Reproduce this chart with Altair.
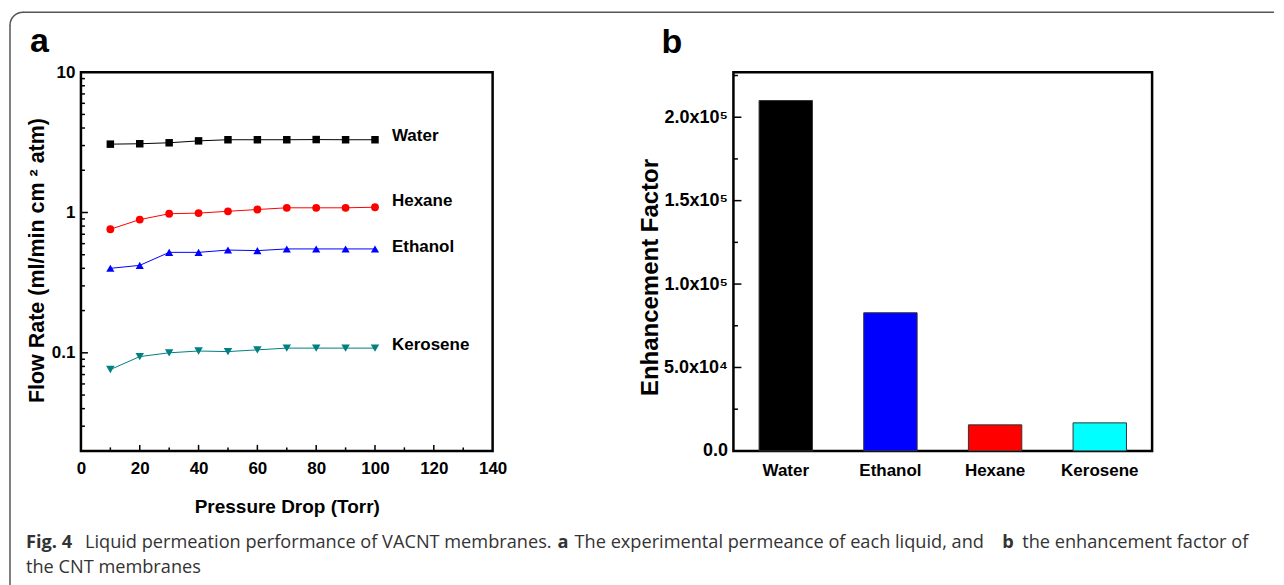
import math
import altair as alt
import pandas as pd

# ---------------- data ----------------
pressure = [10, 20, 30, 40, 50, 60, 70, 80, 90, 100]
water = [3.07, 3.09, 3.14, 3.24, 3.30, 3.30, 3.30, 3.31, 3.30, 3.30]
hexane = [0.76, 0.89, 0.98, 0.99, 1.02, 1.05, 1.08, 1.08, 1.08, 1.09]
ethanol = [0.40, 0.42, 0.52, 0.52, 0.54, 0.535, 0.55, 0.55, 0.55, 0.55]
kerosene = [0.076, 0.094, 0.100, 0.103, 0.102, 0.105, 0.108, 0.108, 0.108, 0.108]

series_names = ["Water", "Hexane", "Ethanol", "Kerosene"]
series_colors = ["#000000", "#ff0000", "#0000ff", "#008080"]
series_shapes = ["square", "circle", "triangle-up", "triangle-down"]
series_sizes = [56, 72, 90, 90]

liquids = ["Water", "Ethanol", "Hexane", "Kerosene"]
enhancement = [2.10e5, 8.28e4, 1.56e4, 1.68e4]
bar_colors = ["#000000", "#0000ff", "#ff0000", "#00ffff"]

x_ticks = [0, 20, 40, 60, 80, 100, 120, 140]
x_minor = [10, 30, 50, 70, 90, 110, 130]
y_ticks = [0.1, 1, 10]
y_minor = [0.03, 0.04, 0.05, 0.06, 0.07, 0.08, 0.09,
           0.2, 0.3, 0.4, 0.5, 0.6, 0.7, 0.8, 0.9,
           2, 3, 4, 5, 6, 7, 8, 9]
b_ticks = [0, 5e4, 1e5, 1.5e5, 2e5]
b_minor = [2.5e4, 7.5e4, 1.25e5, 1.75e5, 2.25e5]

caption_line1 = [("Fig. 4", True),
                 ("Liquid permeation performance of VACNT membranes.", False),
                 ("a", True),
                 ("The experimental permeance of each liquid, and", False),
                 ("b", True),
                 ("the enhancement factor of", False)]
caption_line2 = "the CNT membranes"

# ---------------- layout ----------------
W_A, W_B, H = 412, 419, 379
FONT = "Liberation Sans"
CAP_FONT = "Open Sans"
CAP_SIZE = 18.2

values_by_series = [water, hexane, ethanol, kerosene]
rows = []
for name, vals in zip(series_names, values_by_series):
    for p, v in zip(pressure, vals):
        rows.append({"liquid": name, "p": p, "v": v})
df_a = pd.DataFrame(rows)
one = pd.DataFrame({"k": [0]})

xsc = alt.Scale(domain=[0, 140], nice=False, zero=False)
ysc = alt.Scale(type="log", domain=[0.02, 10], nice=False)

xaxis = alt.Axis(values=x_ticks, ticks=False, domain=False, grid=False,
                 labelFont=FONT, labelFontSize=17, labelFontWeight="bold",
                 labelColor="black", labelPadding=10, labelFlush=False,
                 labelOverlap=False, title="Pressure Drop (Torr)",
                 titleFont=FONT, titleFontSize=19, titleFontWeight="bold",
                 titleColor="black", titlePadding=21)
yaxis = alt.Axis(values=y_ticks, format="~g", ticks=False, domain=False,
                 grid=False, labelFont=FONT, labelFontSize=17,
                 labelFontWeight="bold", labelColor="black", labelPadding=6,
                 labelOverlap=False, title="Flow Rate (ml/min cm ² atm)",
                 titleFont=FONT, titleFontSize=21.5, titleFontWeight="bold",
                 titleColor="black", titleBaseline="alphabetic",
                 titleX=-37, titleY=188)

color_a = alt.Color("liquid:N", scale=alt.Scale(domain=series_names, range=series_colors), legend=None)

lines = alt.Chart(df_a).mark_line(strokeWidth=1).encode(
    x=alt.X("p:Q", scale=xsc, axis=xaxis),
    y=alt.Y("v:Q", scale=ysc, axis=yaxis),
    color=color_a,
    detail="liquid:N",
)
points = alt.Chart(df_a).mark_point(filled=True, opacity=1).encode(
    x=alt.X("p:Q", scale=xsc),
    y=alt.Y("v:Q", scale=ysc),
    color=color_a,
    shape=alt.Shape("liquid:N", scale=alt.Scale(domain=series_names, range=series_shapes), legend=None),
    size=alt.Size("liquid:N", scale=alt.Scale(domain=series_names, range=series_sizes), legend=None),
)

label_dy = {"Water": -4, "Hexane": -6, "Ethanol": -2, "Kerosene": -3}
end_labels = []
for name in series_names:
    end_labels.append(
        alt.Chart(df_a[(df_a.liquid == name) & (df_a.p == pressure[-1])])
        .mark_text(align="left", baseline="middle", dx=17, dy=label_dy[name],
                   font=FONT, fontSize=17, fontWeight="bold", color="black")
        .encode(x=alt.X("p:Q", scale=xsc), y=alt.Y("v:Q", scale=ysc), text="liquid:N")
    )

xt_major = alt.Chart(pd.DataFrame({"p": x_ticks[1:-1]})).mark_rule(color="black", strokeWidth=1.5).encode(
    x=alt.X("p:Q", scale=xsc), y=alt.value(H), y2=alt.value(H - 6))
xt_minor = alt.Chart(pd.DataFrame({"p": x_minor})).mark_rule(color="black", strokeWidth=1.5).encode(
    x=alt.X("p:Q", scale=xsc), y=alt.value(H), y2=alt.value(H - 3.5))
yt_major = alt.Chart(pd.DataFrame({"v": y_ticks[:-1]})).mark_rule(color="black", strokeWidth=1.5).encode(
    y=alt.Y("v:Q", scale=ysc), x=alt.value(0), x2=alt.value(7))
yt_minor = alt.Chart(pd.DataFrame({"v": y_minor})).mark_rule(color="black", strokeWidth=1.5).encode(
    y=alt.Y("v:Q", scale=ysc), x=alt.value(0), x2=alt.value(4))

# outer frame (open on the right/bottom), panel letter and caption, placed relative to panel a
FR_L, FR_T, FR_R, FR_B, FR_RAD = -71, -60, 1194, 540, 13
frame_style = dict(color="#555555", strokeWidth=1.5, clip=False)
frame_top = alt.Chart(one).mark_rule(**frame_style).encode(
    x=alt.value(FR_L + FR_RAD), x2=alt.value(FR_R), y=alt.value(FR_T))
frame_left = alt.Chart(one).mark_rule(**frame_style).encode(
    x=alt.value(FR_L), y=alt.value(FR_T + FR_RAD), y2=alt.value(FR_B))
frame_corner = alt.Chart(one).mark_arc(
    radius=FR_RAD, innerRadius=FR_RAD, theta=1.5 * math.pi, theta2=2 * math.pi,
    fillOpacity=0, stroke="#555555", strokeWidth=1.5, strokeJoin="round", clip=False).encode(
    x=alt.value(FR_L + FR_RAD), y=alt.value(FR_T + FR_RAD))

letter_a = alt.Chart(one).mark_text(text="a", align="left", baseline="alphabetic", font=FONT,
                                    fontSize=34, fontWeight="bold", color="black").encode(
    x=alt.value(-51), y=alt.value(-20))

cap_x = [-55, 4, 477, 494, 922, 942]
cap_layers = []
for (txt, bold), cx in zip(caption_line1, cap_x):
    cap_layers.append(
        alt.Chart(one).mark_text(text=txt, align="left", baseline="alphabetic", font=CAP_FONT,
                                 fontSize=CAP_SIZE, fontWeight="bold" if bold else "normal",
                                 color="#333333").encode(x=alt.value(cx), y=alt.value(476)))
cap_layers.append(
    alt.Chart(one).mark_text(text=caption_line2, align="left", baseline="alphabetic", font=CAP_FONT,
                             fontSize=CAP_SIZE, color="#333333").encode(x=alt.value(-55), y=alt.value(501)))

panel_a = alt.layer(frame_top, frame_left, frame_corner, lines, points, *end_labels,
                    xt_major, xt_minor, yt_major, yt_minor,
                    letter_a, *cap_layers).properties(width=W_A, height=H)

# ---------------- panel b ----------------
df_b = pd.DataFrame({"liq": liquids, "ef": enhancement})
bsc = alt.Scale(domain=[0, 2.27e5], nice=False)

bars = alt.Chart(df_b).mark_bar(stroke="#333333", strokeWidth=1).encode(
    x=alt.X("liq:N", sort=liquids, scale=alt.Scale(paddingInner=0.49, paddingOuter=0.245),
            axis=alt.Axis(ticks=False, domain=False, labelAngle=0, labelFont=FONT, labelFontSize=17,
                          labelFontWeight="bold", labelColor="black", labelPadding=12, title=None)),
    y=alt.Y("ef:Q", scale=bsc,
            axis=alt.Axis(values=b_ticks, ticks=False, domain=False, grid=False,
                          labelExpr="datum.value == 0 ? '0.0' : (datum.value >= 1e5 ? format(datum.value / 1e5, '.1f') + 'x10⁵' : format(datum.value / 1e4, '.1f') + 'x10⁴')",
                          labelFont=FONT, labelFontSize=18, labelFontWeight="bold", labelColor="black",
                          labelPadding=6, labelOverlap=False, title="Enhancement Factor",
                          titleFont=FONT, titleFontSize=24, titleFontWeight="bold", titleColor="black",
                          titleBaseline="alphabetic", titleX=-76, titleY=205)),
    color=alt.Color("liq:N", scale=alt.Scale(domain=liquids, range=bar_colors), legend=None),
)
bt_major = alt.Chart(pd.DataFrame({"ef": b_ticks[1:]})).mark_rule(color="black", strokeWidth=1.5).encode(
    y=alt.Y("ef:Q", scale=bsc), x=alt.value(0), x2=alt.value(8))
bt_minor = alt.Chart(pd.DataFrame({"ef": b_minor})).mark_rule(color="black", strokeWidth=1.5).encode(
    y=alt.Y("ef:Q", scale=bsc), x=alt.value(0), x2=alt.value(4.5))
letter_b = alt.Chart(one).mark_text(text="b", align="left", baseline="alphabetic", font=FONT,
                                    fontSize=34, fontWeight="bold", color="black").encode(
    x=alt.value(-72), y=alt.value(-19))

panel_b = alt.layer(bars, bt_major, bt_minor, letter_b).properties(width=W_B, height=H)

chart = (
    alt.hconcat(panel_a, panel_b, spacing=241, bounds="flush")
    .resolve_scale(color="independent")
    .properties(padding={"left": 0, "top": 2, "right": 0, "bottom": 0}, background="white")
    .configure_view(stroke="black", strokeWidth=2.5)
)

chart.save("out.html", embed_options={"renderer": "svg", "actions": False})
